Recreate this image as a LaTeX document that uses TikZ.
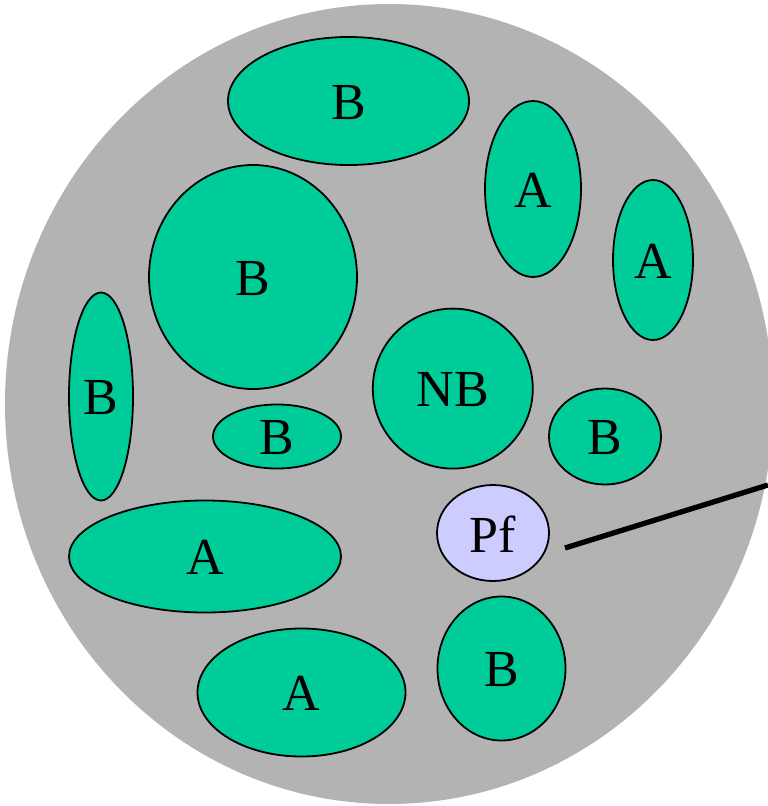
\documentclass[tikz,border=0pt]{standalone}
\usepackage{fontspec}
\setmainfont{Liberation Serif}
\usetikzlibrary{shapes.geometric}
\definecolor{cellgray}{RGB}{179,179,179}
\definecolor{granule}{RGB}{0,204,153}
\definecolor{pfcol}{RGB}{204,204,255}
\tikzset{
  blob/.style={ellipse, draw=black, line width=1.8pt, fill=granule, inner sep=0pt,
    font=\fontsize{52}{52}\selectfont, text depth=0pt},
  pfblob/.style={blob, fill=pfcol},
}
\newcommand{\blobnode}[6]{%
  \node[#1, minimum width=#4pt, minimum height=#5pt] (#2) at (#3) {\raisebox{-2.2pt}{#6}};}
\begin{document}
\begin{tikzpicture}[x=1pt, y=-1pt]
  \useasboundingbox (0,0) rectangle (768,806);
  \clip (0,0) rectangle (768,806);
  % cell body
  \fill[cellgray] (389,404) ellipse [x radius=384pt, y radius=400pt];
  % granules
  \blobnode{blob}{btop}{348.5,101}{241}{128}{B}
  \blobnode{blob}{aone}{533,189}{96}{176}{A}
  \blobnode{blob}{atwo}{653,260}{80}{160}{A}
  \blobnode{blob}{bbig}{253,277}{208}{224}{B}
  \blobnode{blob}{bleft}{101,396.5}{64}{208}{B}
  \blobnode{blob}{bsmall}{277,436.5}{128}{64}{B}
  \blobnode{blob}{nb}{452.8,388.6}{160}{160}{NB}
  \blobnode{blob}{bright}{605,436.5}{112}{96}{B}
  \blobnode{pfblob}{pf}{493,533}{112}{96}{Pf}
  \blobnode{blob}{alarge}{205,556.5}{272}{112}{A}
  \blobnode{blob}{abottom}{301.5,692.5}{208}{128}{A}
  \blobnode{blob}{bbottom}{501.5,668.5}{128}{144}{B}
  % pointer line
  \coordinate (lineS) at (565,548);
  \coordinate (lineE) at (768,485);
  \draw[line width=5.3pt] (lineS) -- (lineE);
\end{tikzpicture}
\end{document}
